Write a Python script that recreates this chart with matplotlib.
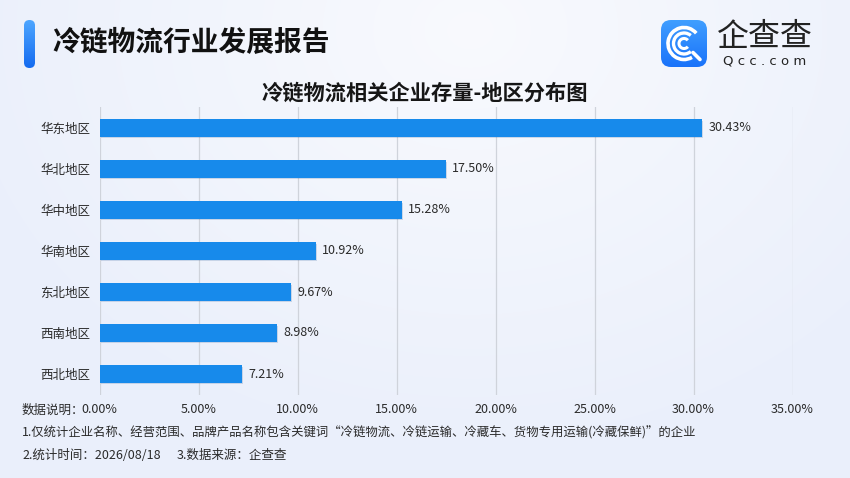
import numpy as np
import matplotlib
matplotlib.use("Agg")
import matplotlib.pyplot as plt
from matplotlib.patches import FancyBboxPatch, Arc
import matplotlib.patheffects as pe

plt.rcParams['font.family'] = ['Noto Sans CJK SC', 'DejaVu Sans']

categories = ['华东地区', '华北地区', '华中地区', '华南地区', '东北地区', '西南地区', '西北地区']
values = [30.43, 17.50, 15.28, 10.92, 9.67, 8.98, 7.21]
xticks = [0, 5, 10, 15, 20, 25, 30, 35]

title = '冷链物流行业发展报告'
subtitle = '冷链物流相关企业存量-地区分布图'
note0 = '数据说明：'
note1 = '1.仅统计企业名称、经营范围、品牌产品名称包含关键词“冷链物流、冷链运输、冷藏车、货物专用运输(冷藏保鲜)”的企业'
note2a = '2.统计时间：2026/08/18'
note2b = '3.数据来源：企查查'

W, H = 850, 478
fig = plt.figure(figsize=(W / 100, H / 100), dpi=100)

# background gradient
bg = fig.add_axes([0, 0, 1, 1], zorder=-10)
yy, xx = np.mgrid[0:H, 0:W]
d = np.sqrt(((xx - 470) / 520.0) ** 2 + ((yy - 30) / 420.0) ** 2)
d = np.clip(d, 0, 1)
c0 = np.array([0.975, 0.980, 0.995])
c1 = np.array([0.920, 0.940, 0.985])
img = c0[None, None, :] * (1 - d[..., None]) + c1[None, None, :] * d[..., None]
bg.imshow(img, extent=[0, W, H, 0], aspect='auto')
bg.set_xlim(0, W)
bg.set_ylim(H, 0)
bg.axis('off')

# header pill
pill_grad = np.linspace(0, 1, 50)[:, None]
pill_cols = np.array([0.30, 0.65, 1.0])[None, None, :] * (1 - pill_grad[..., None]) + \
    np.array([0.08, 0.42, 0.94])[None, None, :] * pill_grad[..., None]
im = bg.imshow(pill_cols, extent=[24, 35, 68, 20], aspect='auto', zorder=2)
clip = FancyBboxPatch((24, 20), 11, 48, boxstyle='round,pad=0,rounding_size=5.5',
                      transform=bg.transData, facecolor='none', edgecolor='none')
bg.add_patch(clip)
im.set_clip_path(clip)

fig.text(52 / W, 1 - 43 / H, title, fontsize=20, fontweight='bold', color='#111111',
         ha='left', va='center')

# logo
logo_cols = np.array([0.25, 0.62, 1.0])[None, None, :] * (1 - pill_grad[..., None]) + \
    np.array([0.10, 0.45, 0.98])[None, None, :] * pill_grad[..., None]
im2 = bg.imshow(logo_cols, extent=[661, 707, 67, 20], aspect='auto', zorder=2)
clip2 = FancyBboxPatch((661, 20), 46, 47, boxstyle='round,pad=0,rounding_size=10',
                       transform=bg.transData, facecolor='none', edgecolor='none')
bg.add_patch(clip2)
im2.set_clip_path(clip2)
cx, cy = 684, 43.5
bg.add_patch(Arc((cx, cy), 32, 32, theta1=-300, theta2=-40, color='white', lw=2.6, zorder=3))
bg.add_patch(Arc((cx, cy), 21, 21, theta1=-310, theta2=-50, color='white', lw=2.4, zorder=3))
bg.add_patch(Arc((cx, cy), 10, 10, theta1=-320, theta2=-40, color='white', lw=2.2, zorder=3))
bg.plot([cx + 9, cx + 16], [cy + 9, cy + 16], color='white', lw=2.6, zorder=3, solid_capstyle='round')
fig.text(765 / W, 1 - 37 / H, '企查查', fontsize=23, color='#222222', ha='center', va='center')
fig.text(765 / W, 1 - 61 / H, 'Q c c . c o m', fontsize=9.5, color='#222222', ha='center',
         va='center', family=['DejaVu Sans'])

fig.text(425 / W, 1 - 93 / H, subtitle, fontsize=15.3, fontweight='bold', color='#161616',
         ha='center', va='center')

# main axes
x0, x1 = 99.5, 792.5
y_top, y_bot = 107.5, 394.5
ax = fig.add_axes([x0 / W, 1 - y_bot / H, (x1 - x0) / W, (y_bot - y_top) / H])
ax.patch.set_alpha(0)
y = np.arange(len(categories))
bars = ax.barh(y, values, height=0.415, color='#178AEB', zorder=3)
for b in bars:
    b.set_path_effects([pe.SimplePatchShadow(offset=(0.8, -1.2), shadow_rgbFace='#1a4f90', alpha=0.18),
                        pe.Normal()])
ax.set_xlim(0, 35)
ax.set_ylim(len(categories) - 0.5, -0.5)
ax.set_yticks(y)
ax.set_yticklabels(categories, fontsize=9, color='#2a2a2a')
ax.set_xticks(xticks)
ax.set_xticklabels(['%.2f%%' % v for v in xticks], fontsize=9, color='#2a2a2a')
ax.tick_params(axis='both', length=0)
ax.tick_params(axis='y', pad=6.5)
ax.tick_params(axis='x', pad=6)
ax.xaxis.grid(True, color='#cfd3db', lw=0.9, zorder=0)
ax.set_axisbelow(True)
for s in ax.spines.values():
    s.set_visible(False)
for yi, v in zip(y, values):
    ax.annotate('%.2f%%' % v, (v, yi), xytext=(4.5, 0), textcoords='offset points',
                ha='left', va='center', fontsize=9, color='#2a2a2a')

fig.text(22 / W, 1 - 410 / H, note0, fontsize=9, color='#2a2a2a', ha='left', va='center')
fig.text(22 / W, 1 - 433 / H, note1, fontsize=8.9, color='#2a2a2a', ha='left', va='center')
fig.text(22 / W, 1 - 455.5 / H, note2a, fontsize=9, color='#2a2a2a', ha='left', va='center')
fig.text(177 / W, 1 - 455.5 / H, note2b, fontsize=9, color='#2a2a2a', ha='left', va='center')

fig.savefig('out.png', dpi=100)
